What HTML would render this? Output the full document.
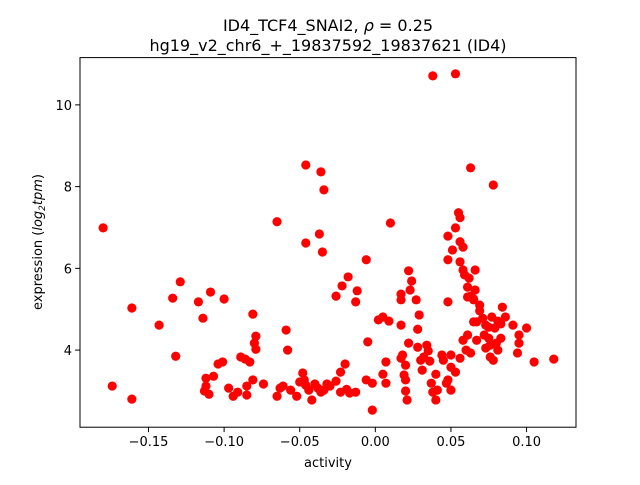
<!DOCTYPE html>
<html><head><meta charset="utf-8"><style>
body{margin:0;background:#fff}
svg text{font-family:"DejaVu Sans","Liberation Sans",sans-serif;fill:#000}
</style></head><body>
<svg id="chart" width="640" height="480" viewBox="0 0 640 480" xmlns="http://www.w3.org/2000/svg">
<rect width="640" height="480" fill="#fff"/>
<text x="328" y="31" font-size="16" text-anchor="middle">ID4_TCF4_SNAI2, <tspan font-style="italic">ρ</tspan> = 0.25</text>
<text x="328" y="51" font-size="16" text-anchor="middle">hg19_v2_chr6_+_19837592_19837621 (ID4)</text>
<g id="points"></g>
<rect x="80" y="57.6" width="496" height="369.6" fill="none" stroke="#000" stroke-width="1"/>
<g id="xticks"></g>
<g id="yticks"></g>
<text x="328" y="467" font-size="13" text-anchor="middle">activity</text>
<text transform="translate(42,242) rotate(-90)" font-size="13" text-anchor="middle">expression (<tspan font-style="italic">log</tspan><tspan font-size="9" dy="3" font-style="italic">2</tspan><tspan dy="-3" font-style="italic">tpm</tspan>)</text>
</svg>
<script>
const xs=[-0.180,-0.174,-0.161,-0.161,-0.143,-0.134,-0.129,-0.132,-0.117,-0.114,-0.109,-0.100,-0.112,-0.112,-0.113,-0.110,-0.107,-0.104,-0.101,-0.097,-0.094,-0.091,-0.089,-0.086,-0.081,-0.080,-0.079,-0.079,-0.083,-0.081,-0.085,-0.085,-0.074,-0.065,-0.059,-0.058,-0.063,-0.061,-0.056,-0.065,-0.052,-0.050,-0.048,-0.047,-0.046,-0.044,-0.042,-0.040,-0.038,-0.036,-0.034,-0.032,-0.030,-0.026,-0.023,-0.046,-0.046,-0.036,-0.034,-0.035,-0.037,-0.026,-0.022,-0.018,-0.020,-0.023,-0.019,-0.017,-0.013,-0.012,-0.013,-0.006,-0.005,-0.006,-0.002,-0.002,0.005,0.007,0.007,0.002,0.005,0.009,0.010,0.017,0.017,0.020,0.020,0.021,0.019,0.022,0.023,0.024,0.027,0.017,0.017,0.018,0.020,0.022,0.028,0.028,0.029,0.030,0.031,0.032,0.034,0.035,0.036,0.037,0.038,0.040,0.041,0.044,0.045,0.047,0.048,0.048,0.048,0.051,0.053,0.055,0.056,0.056,0.056,0.058,0.058,0.059,0.061,0.061,0.062,0.063,0.065,0.066,0.067,0.069,0.071,0.072,0.073,0.075,0.076,0.078,0.079,0.081,0.083,0.050,0.050,0.050,0.048,0.053,0.056,0.058,0.060,0.061,0.063,0.065,0.067,0.069,0.073,0.075,0.076,0.077,0.080,0.081,0.083,0.084,0.086,0.091,0.094,0.095,0.095,0.100,0.105,0.118,0.063,0.078,0.038,0.053,0.066,0.065,0.040];
const ys=[6.99,3.12,2.80,5.03,4.61,5.27,5.67,3.85,5.18,4.78,5.42,5.25,3.31,3.12,3.00,2.92,3.36,3.66,3.71,3.07,2.87,2.97,3.83,3.78,4.88,4.17,4.34,4.02,3.71,3.27,3.12,2.90,3.17,7.14,4.49,4.00,3.07,3.12,3.02,2.87,2.87,3.22,3.44,3.27,3.14,3.02,2.78,3.17,3.07,2.97,3.02,3.17,3.12,3.24,2.97,8.53,6.62,8.36,7.92,6.40,6.84,5.32,5.57,5.79,3.66,3.46,3.04,2.95,2.97,5.45,5.18,6.21,4.20,3.27,2.53,3.19,3.41,3.19,3.71,4.74,4.81,4.71,7.11,4.61,3.80,3.27,3.00,2.78,3.39,5.94,5.47,5.69,5.23,5.23,5.37,3.88,3.63,4.17,4.51,4.07,4.86,3.75,3.51,3.83,4.12,3.98,3.73,3.19,2.97,3.41,3.02,3.88,3.75,3.19,6.21,5.18,6.79,6.45,6.99,7.36,7.24,6.65,6.16,6.52,5.96,5.84,5.54,5.30,5.76,5.32,5.25,5.47,4.69,4.96,4.78,4.37,4.05,4.29,4.12,3.75,4.54,4.71,4.64,3.88,3.58,3.02,3.27,3.46,3.80,4.24,4.00,4.37,3.93,4.69,4.24,5.10,4.61,4.56,3.83,4.81,4.17,4.00,4.29,5.05,4.81,4.61,3.93,4.37,4.17,4.54,3.71,3.78,8.46,8.04,10.71,10.76,5.96,5.23,2.78];
const xTicks=[-0.15,-0.10,-0.05,0.00,0.05,0.10];
const xTickLabels=["−0.15","−0.10","−0.05","0.00","0.05","0.10"];
const yTicks=[4,6,8,10];
const yTickLabels=["4","6","8","10"];
const L=80,R=576,T=57.6,B=427.2;
const XMIN=-0.1953,XMAX=0.1327,YMIN=2.113,YMAX=11.157;
const sx=v=>L+(v-XMIN)/(XMAX-XMIN)*(R-L);
const sy=v=>B-(v-YMIN)/(YMAX-YMIN)*(B-T);
const NS="http://www.w3.org/2000/svg";
const pg=document.getElementById('points');
for(let i=0;i<xs.length;i++){
 const c=document.createElementNS(NS,'circle');
 c.setAttribute('cx',sx(xs[i]));c.setAttribute('cy',sy(ys[i]));c.setAttribute('r',4.6);c.setAttribute('fill','#ff0000');
 
 
 pg.appendChild(c);
}
const xg=document.getElementById('xticks');
xTicks.forEach((t,i)=>{
 const x=sx(t);
 const l=document.createElementNS(NS,'line');
 l.setAttribute('x1',x);l.setAttribute('x2',x);l.setAttribute('y1',B);l.setAttribute('y2',B+4.9);l.setAttribute('stroke','#000');
 
 
 xg.appendChild(l);
 const tx=document.createElementNS(NS,'text');
 tx.setAttribute('x',x);tx.setAttribute('y',B+19);tx.setAttribute('font-size','13');tx.setAttribute('text-anchor','middle');
 tx.textContent=xTickLabels[i];
 
 
 xg.appendChild(tx);
});
const yg=document.getElementById('yticks');
yTicks.forEach((t,i)=>{
 const y=sy(t);
 const l=document.createElementNS(NS,'line');
 l.setAttribute('x1',L-4.9);l.setAttribute('x2',L);l.setAttribute('y1',y);l.setAttribute('y2',y);l.setAttribute('stroke','#000');
 
 
 yg.appendChild(l);
 const tx=document.createElementNS(NS,'text');
 tx.setAttribute('x',L-8);tx.setAttribute('y',y+5);tx.setAttribute('font-size','13');tx.setAttribute('text-anchor','end');
 tx.textContent=yTickLabels[i];
 
 
 yg.appendChild(tx);
});
</script>
</body></html>
